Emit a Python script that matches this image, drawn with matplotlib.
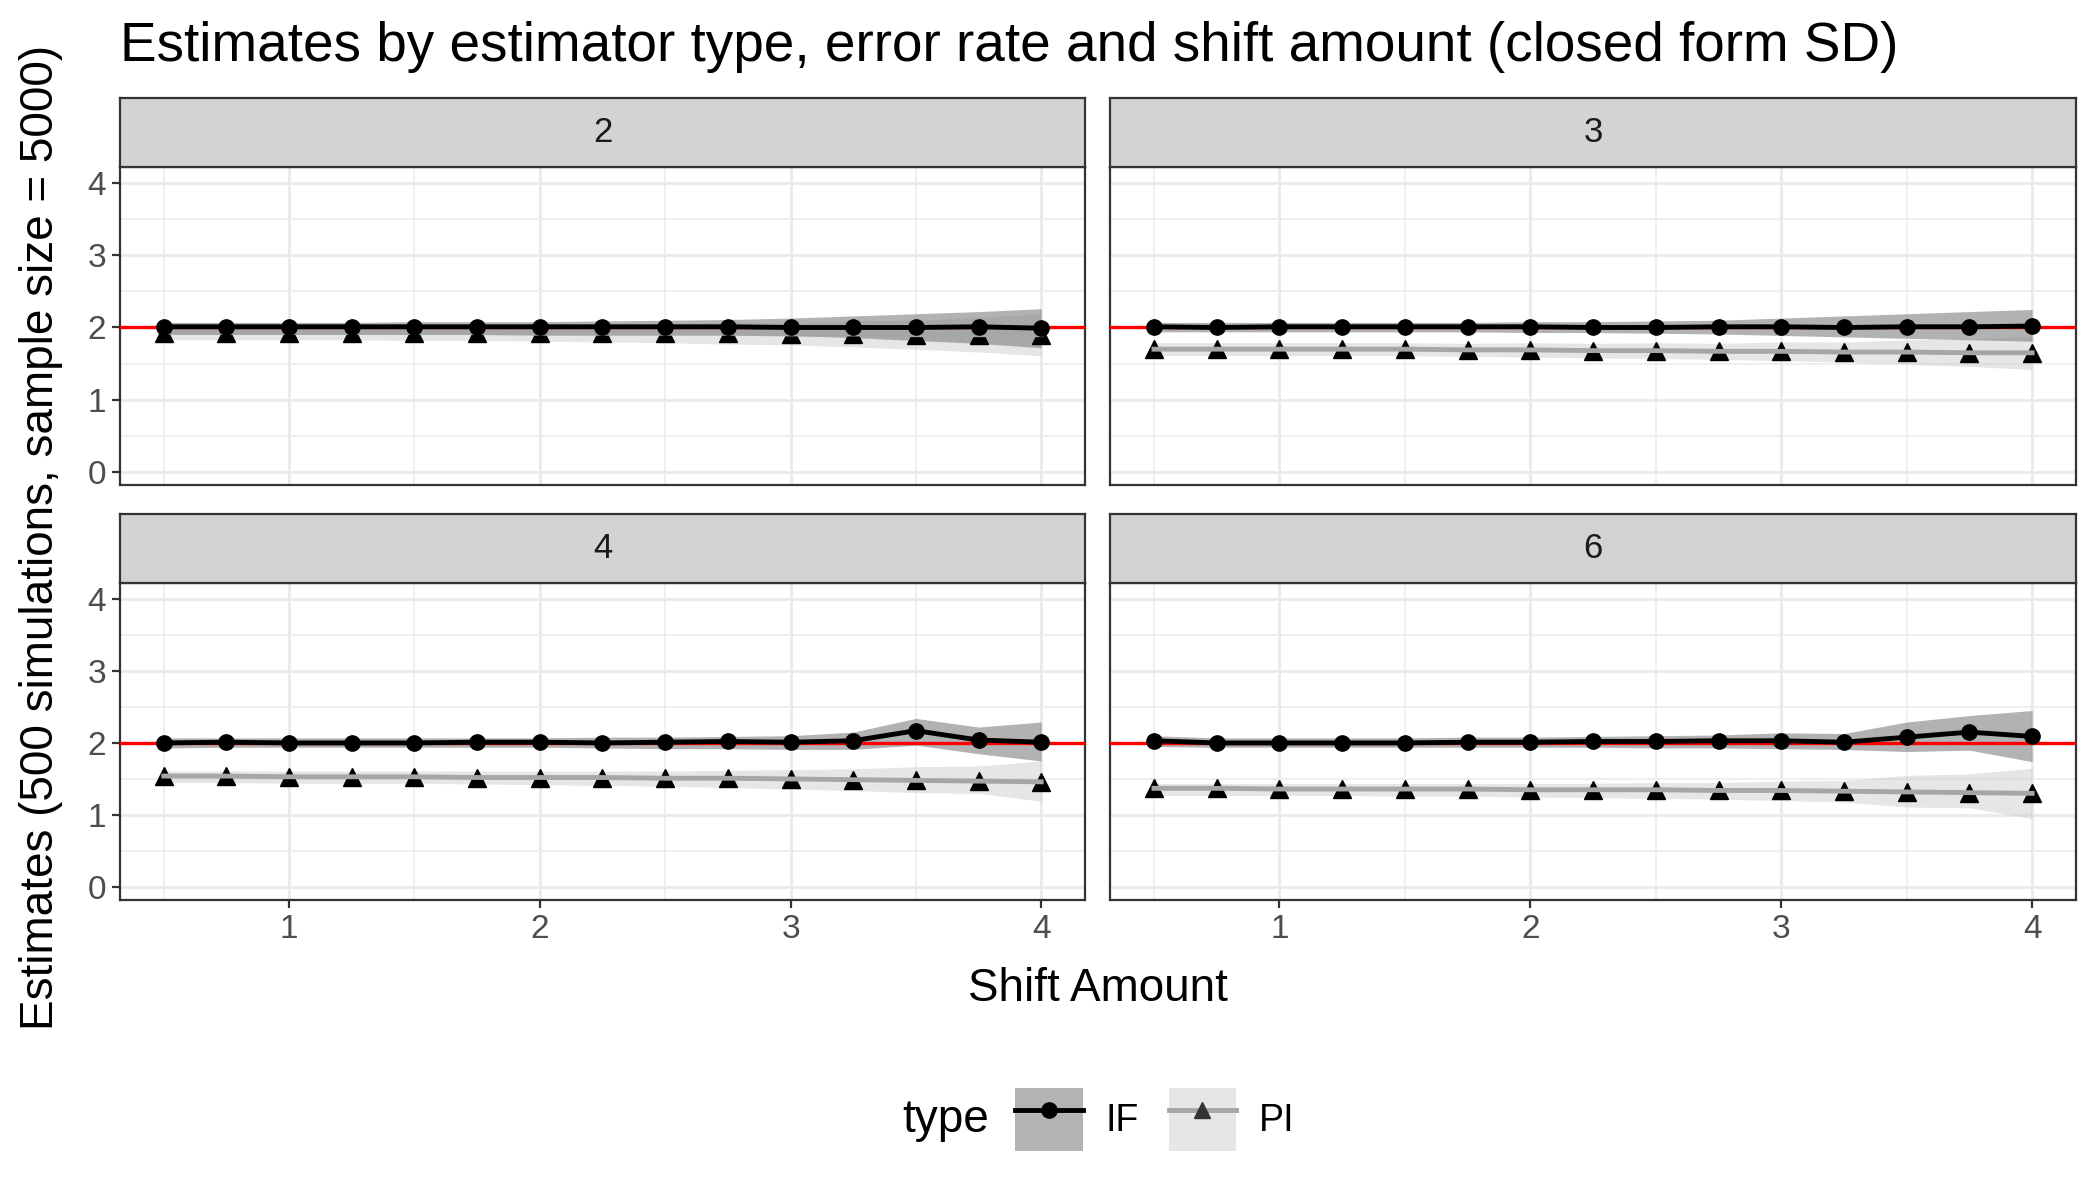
import numpy as np
import matplotlib.pyplot as plt
from matplotlib.patches import Patch
from matplotlib.lines import Line2D
from matplotlib.legend_handler import HandlerTuple

plt.rcParams['font.family'] = ['Liberation Sans', 'DejaVu Sans']

shift = [0.5, 0.75, 1.0, 1.25, 1.5, 1.75, 2.0, 2.25, 2.5, 2.75, 3.0, 3.25, 3.5, 3.75, 4.0]
panels = ['2', '3', '4', '6']
truth = 2.0

# IF estimator (mean, lower, upper) per error rate
if_mean = {
    '2': [2.01, 2.01, 2.01, 2.01, 2.01, 2.01, 2.01, 2.01, 2.01, 2.01, 2.0, 2.0, 2.0, 2.01, 1.99],
    '3': [2.01, 2.0, 2.01, 2.01, 2.01, 2.01, 2.01, 2.0, 2.0, 2.01, 2.01, 2.0, 2.01, 2.01, 2.02],
    '4': [2.0, 2.01, 2.0, 2.0, 2.0, 2.01, 2.01, 2.0, 2.01, 2.02, 2.01, 2.03, 2.17, 2.04, 2.01],
    '6': [2.03, 2.0, 2.0, 2.0, 2.0, 2.01, 2.01, 2.02, 2.02, 2.03, 2.03, 2.01, 2.08, 2.15, 2.09],
}
if_lo = {
    '2': [1.94, 1.94, 1.94, 1.94, 1.94, 1.94, 1.93, 1.93, 1.92, 1.91, 1.89, 1.86, 1.82, 1.78, 1.72],
    '3': [1.94, 1.94, 1.94, 1.94, 1.94, 1.94, 1.93, 1.93, 1.92, 1.91, 1.89, 1.87, 1.85, 1.83, 1.81],
    '4': [1.93, 1.94, 1.94, 1.94, 1.94, 1.94, 1.94, 1.93, 1.92, 1.92, 1.91, 1.91, 1.97, 1.85, 1.75],
    '6': [1.95, 1.94, 1.94, 1.94, 1.94, 1.94, 1.94, 1.94, 1.93, 1.93, 1.92, 1.91, 1.88, 1.90, 1.74],
}
if_hi = {
    '2': [2.07, 2.07, 2.07, 2.07, 2.08, 2.08, 2.08, 2.09, 2.10, 2.11, 2.13, 2.16, 2.19, 2.22, 2.26],
    '3': [2.07, 2.07, 2.07, 2.07, 2.07, 2.07, 2.08, 2.08, 2.09, 2.10, 2.13, 2.16, 2.19, 2.22, 2.25],
    '4': [2.07, 2.07, 2.07, 2.07, 2.07, 2.07, 2.07, 2.08, 2.08, 2.09, 2.10, 2.15, 2.34, 2.22, 2.29],
    '6': [2.10, 2.07, 2.07, 2.07, 2.07, 2.08, 2.08, 2.09, 2.10, 2.11, 2.14, 2.13, 2.29, 2.38, 2.45],
}

# PI estimator
pi_mean = {
    '2': [1.93, 1.93, 1.93, 1.93, 1.93, 1.93, 1.92, 1.92, 1.92, 1.92, 1.91, 1.91, 1.90, 1.90, 1.90],
    '3': [1.70, 1.70, 1.70, 1.70, 1.70, 1.69, 1.69, 1.68, 1.68, 1.67, 1.67, 1.66, 1.66, 1.65, 1.65],
    '4': [1.54, 1.54, 1.53, 1.53, 1.53, 1.52, 1.52, 1.52, 1.51, 1.51, 1.50, 1.49, 1.48, 1.47, 1.46],
    '6': [1.37, 1.37, 1.36, 1.36, 1.36, 1.36, 1.35, 1.35, 1.35, 1.34, 1.34, 1.33, 1.32, 1.31, 1.30],
}
pi_lo = {
    '2': [1.83, 1.83, 1.83, 1.83, 1.82, 1.82, 1.81, 1.80, 1.79, 1.77, 1.76, 1.73, 1.70, 1.66, 1.61],
    '3': [1.61, 1.61, 1.61, 1.61, 1.61, 1.60, 1.59, 1.58, 1.57, 1.56, 1.54, 1.52, 1.49, 1.46, 1.42],
    '4': [1.45, 1.45, 1.44, 1.44, 1.44, 1.43, 1.42, 1.41, 1.40, 1.38, 1.36, 1.34, 1.31, 1.30, 1.19],
    '6': [1.27, 1.27, 1.27, 1.27, 1.26, 1.26, 1.25, 1.24, 1.23, 1.22, 1.20, 1.18, 1.11, 1.10, 0.95],
}
pi_hi = {
    '2': [2.03, 2.03, 2.03, 2.03, 2.04, 2.04, 2.03, 2.04, 2.05, 2.07, 2.06, 2.09, 2.10, 2.14, 2.19],
    '3': [1.79, 1.79, 1.79, 1.79, 1.79, 1.78, 1.79, 1.78, 1.79, 1.78, 1.80, 1.80, 1.83, 1.84, 1.88],
    '4': [1.61, 1.61, 1.61, 1.61, 1.61, 1.61, 1.61, 1.61, 1.61, 1.62, 1.63, 1.64, 1.67, 1.68, 1.75],
    '6': [1.44, 1.44, 1.44, 1.44, 1.44, 1.44, 1.44, 1.44, 1.45, 1.45, 1.47, 1.48, 1.55, 1.57, 1.65],
}

fig = plt.figure(figsize=(21, 12), dpi=100)

# panel boxes in figure fractions
cols = [(0.0571, 0.4596), (0.5286, 0.4600)]
rows = [(0.5958, 0.2650), (0.2500, 0.2642)]
strip_h = 0.0575

for k, p in enumerate(panels):
    r, c = divmod(k, 2)
    x0, w = cols[c]
    y0, h = rows[r]
    ax = fig.add_axes([x0, y0, w, h])
    sax = fig.add_axes([x0, y0 + h, w, strip_h])
    sax.set_facecolor('#d3d3d3')
    sax.set_xticks([])
    sax.set_yticks([])
    for s in sax.spines.values():
        s.set_color('#333333')
        s.set_linewidth(1.6)
    sax.text(0.5, 0.5, p, ha='center', va='center', fontsize=25, color='#1a1a1a',
             transform=sax.transAxes)

    ax.set_facecolor('white')
    ax.fill_between(shift, pi_lo[p], pi_hi[p], color='#c8c8c8', alpha=0.45, lw=0, zorder=2)
    ax.fill_between(shift, if_lo[p], if_hi[p], color='#7f7f7f', alpha=0.6, lw=0, zorder=2)
    ax.axhline(truth, color='red', lw=2.4, zorder=3)
    ax.plot(shift, pi_mean[p], marker='^', ms=13, color='black', lw=0, zorder=4)
    ax.plot(shift, pi_mean[p], color='#a6a6a6', lw=3.5, zorder=5)
    ax.plot(shift, if_mean[p], color='black', lw=3.5, marker='o', ms=11, zorder=6)

    ax.set_xlim(0.325, 4.175)
    ax.set_ylim(-0.18, 4.22)
    ax.set_xticks([1, 2, 3, 4])
    ax.set_xticks(np.arange(0.5, 4.01, 0.5), minor=True)
    ax.set_yticks([0, 1, 2, 3, 4])
    ax.set_yticks(np.arange(0.5, 4.01, 1.0), minor=True)
    ax.grid(which='major', color='#ebebeb', lw=2.2, zorder=0)
    ax.grid(which='minor', color='#ebebeb', lw=1.1, zorder=0)
    ax.set_axisbelow(True)
    for s in ax.spines.values():
        s.set_color('#333333')
        s.set_linewidth(1.6)
    ax.tick_params(which='major', length=6, width=1.6, color='#333333',
                   labelsize=24, labelcolor='#4d4d4d', pad=4)
    ax.tick_params(which='minor', length=0)
    if c == 1:
        ax.tick_params(axis='y', labelleft=False, length=0)
    if r == 0:
        ax.tick_params(axis='x', labelbottom=False, length=0)

fig.text(0.0571, 0.961, 'Estimates by estimator type, error rate and shift amount (closed form SD)',
         fontsize=39.5, ha='left', va='center', color='black')
fig.text(0.523, 0.176, 'Shift Amount', fontsize=33, ha='center', va='center')
fig.text(0.0195, 0.552, 'Estimates (500 simulations, sample size = 5000)', fontsize=33,
         rotation=90, ha='center', va='center')

handles = [
    (Patch(facecolor='#b3b3b3', edgecolor='none'),
     Line2D([], [], color='black', lw=3.5, marker='o', ms=11)),
    (Patch(facecolor='#e6e6e6', edgecolor='none'),
     Line2D([], [], color='#a6a6a6', lw=3.5),
     Line2D([], [], color='#333333', lw=0, marker='^', ms=12)),
]
leg = fig.legend(handles, ['IF', 'PI'], loc='center left', bbox_to_anchor=(0.4835, 0.067), ncol=2,
                 frameon=False, fontsize=27, handlelength=1.8, handleheight=2.2,
                 handler_map={tuple: HandlerTuple(ndivide=1, pad=0)},
                 columnspacing=0.8, handletextpad=0.6, borderpad=0, borderaxespad=0)
fig.text(0.471, 0.067, 'type', fontsize=33, ha='right', va='center')

fig.savefig('out.png', dpi=100)
